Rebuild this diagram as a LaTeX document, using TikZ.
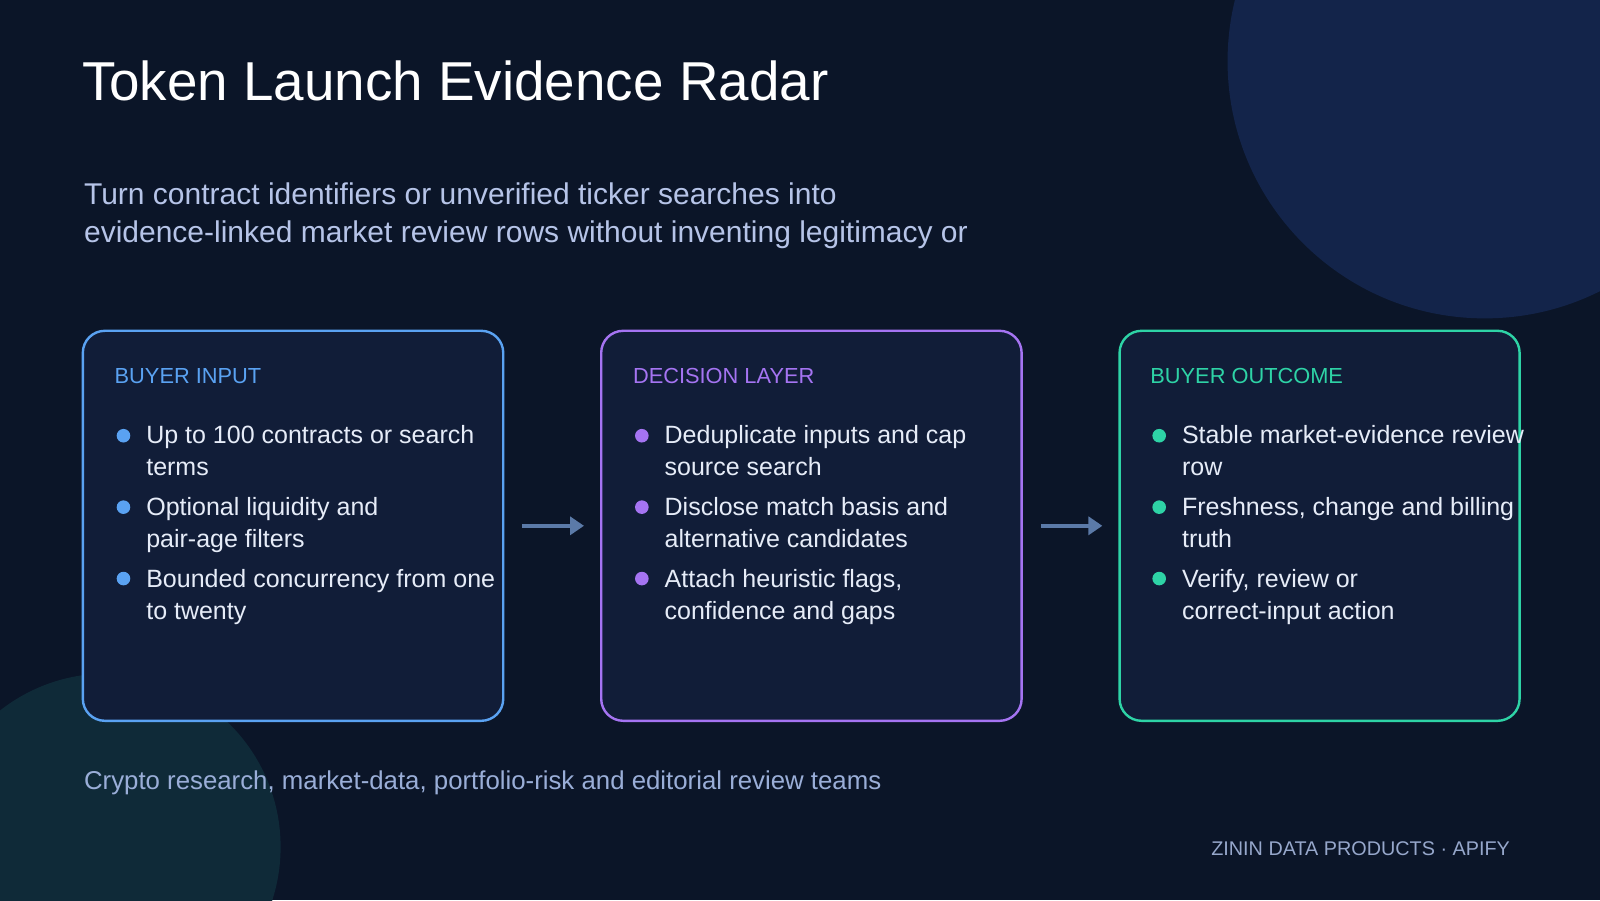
\documentclass[tikz,border=0pt]{standalone}
\usepackage{fontspec}
\setmainfont{Liberation Sans}
\usetikzlibrary{arrows.meta}
\definecolor{bgnavy}{HTML}{0B1528}
\definecolor{circblue}{HTML}{13244A}
\definecolor{circteal}{HTML}{0F2A38}
\definecolor{cardfill}{HTML}{111D38}
\definecolor{inblue}{HTML}{5AA2F2}
\definecolor{decpurple}{HTML}{A574F2}
\definecolor{outteal}{HTML}{2ED3A6}
\definecolor{subtext}{HTML}{B6C4E8}
\definecolor{bodytext}{HTML}{E6ECF8}
\definecolor{foottext}{HTML}{9AAED8}
\definecolor{arrowgrey}{HTML}{5B7AA8}
\tikzset{
  card/.style={draw=#1, line width=1.2pt, fill=cardfill, rounded corners=11pt, anchor=north west, minimum width=210.2pt, minimum height=195pt, inner sep=0pt},
  head/.style={anchor=base west, inner sep=0pt, text=#1, font=\fontsize{10.9}{13}\selectfont},
  item/.style={anchor=base west, inner sep=0pt, text=bodytext, font=\fontsize{12.5}{15}\selectfont},
  dot/.style={circle, fill=#1, inner sep=0pt, minimum size=6.8pt},
  flow/.style={draw=arrowgrey, line width=2pt, -{Triangle[length=7pt,width=9pt]}}
}
\begin{document}
\begin{tikzpicture}[x=0.5102pt,y=-0.5102pt]
  \useasboundingbox[fill=bgnavy] (0,0) rectangle (1568,882);
  \fill[circblue] (1455,60) circle (252);
  \fill[circteal] (105,830) circle (170);

  % title block
  \node[anchor=base west, inner sep=0pt, text=white, font=\fontsize{27.4}{33}\selectfont] (title) at (80,98) {Token Launch Evidence Radar};
  \node[anchor=base west, inner sep=0pt, text=subtext, font=\fontsize{15}{18}\selectfont] (sub1) at (82,200) {Turn contract identifiers or unverified ticker searches into};
  \node[anchor=base west, inner sep=0pt, text=subtext, font=\fontsize{15}{18}\selectfont] (sub2) at (82,238) {evidence-linked market review rows without inventing legitimacy or};

  % cards
  \node[card=inblue] (input) at (80,323) {};
  \node[card=decpurple] (decision) at (588,323) {};
  \node[card=outteal, minimum width=200pt] (outcome) at (1096,323) {};

  \node[head=inblue] (inhead) at (112,376) {BUYER INPUT};
  \node[head=decpurple] (dechead) at (620,376) {DECISION LAYER};
  \node[head=outteal] (outhead) at (1127,376) {BUYER OUTCOME};

  % bullets
  \foreach \cx/\col in {121/inblue, 629/decpurple, 1136/outteal}
    \foreach \cy in {427, 497, 567}
      \node[dot=\col] at (\cx,\cy) {};

  \foreach \bx/\lines in {
    143/{Up to 100 contracts or search,terms,Optional liquidity and,pair-age filters,Bounded concurrency from one,to twenty},
    651/{Deduplicate inputs and cap,source search,Disclose match basis and,alternative candidates,Attach heuristic flags{,},confidence and gaps},
    1158/{Stable market-evidence review,row,Freshness{,} change and billing,truth,Verify{,} review or,correct-input action}}
  {
    \foreach \txt [count=\k] in \lines {
      \pgfmathsetmacro{\by}{435+floor((\k-1)/2)*70.5+mod(\k-1,2)*31}
      \node[item] at (\bx,\by) {\txt};
    }
  }

  % flow arrows
  \draw[flow] ([xshift=9pt]input.east) -- ([xshift=-8pt]decision.west);
  \draw[flow] ([xshift=9pt]decision.east) -- ([xshift=-8pt]outcome.west);

  % footer
  \node[anchor=base west, inner sep=0pt, text=foottext, font=\fontsize{12.9}{15}\selectfont] (audience) at (82,774) {Crypto research, market-data, portfolio-risk and editorial review teams};
  \node[anchor=base east, inner sep=0pt, text=foottext!85!gray, font=\fontsize{9.9}{12}\selectfont] (brand) at (1480,838) {ZININ DATA PRODUCTS · APIFY};
\end{tikzpicture}
\end{document}
